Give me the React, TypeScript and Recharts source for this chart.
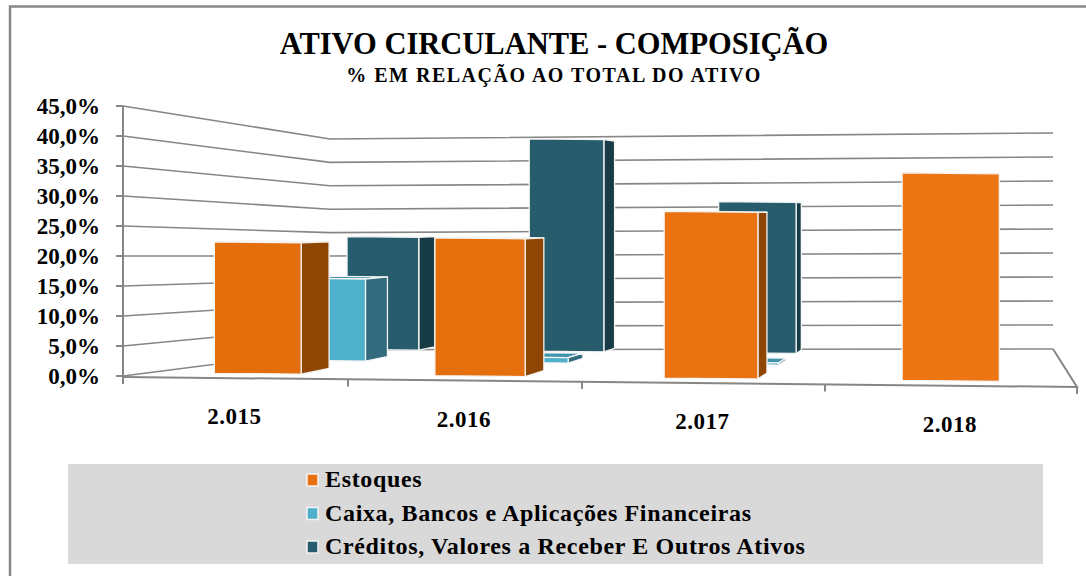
import React from 'react';
import { BarChart, Bar, XAxis, YAxis, CartesianGrid } from 'recharts';

const years = ['2.015', '2.016', '2.017', '2.018'];
const estoques = [22.5, 23.6, 28.55, 35.55];
const caixa = [15.3, 1.0, 0.4, 0];
const creditos = [22.7, 42.7, 30.4, 0];
const yTicks = [0, 5, 10, 15, 20, 25, 30, 35, 40, 45];

const seriesNames = ['Estoques', 'Caixa, Bancos e Aplicações Financeiras', 'Créditos, Valores a Receber E Outros Ativos'];
const seriesColors = ['#e8700f', '#4fb0cb', '#265c6b'];

const data = years.map((year, i) => ({ year, estoques: estoques[i], caixa: caixa[i], creditos: creditos[i] }));

const FONT = '"Liberation Serif", serif';
const GRID = '#868686';
const PLOT_LEFT = 123;
const PLOT_TOP = 106;
const PLOT_WIDTH = 954;
const PLOT_HEIGHT = 270;

// perspective of the 3D box: s = 0 is the front of the floor, s = 1 the back wall
const project = (x: number, s: number) => {
    const t = (x - PLOT_LEFT) / PLOT_WIDTH;
    const g = 0.9245 * t + 0.0755 * t * t;
    const front = PLOT_LEFT + PLOT_WIDTH * g;
    const back = 330 + 723 * g;
    return { x: front + (back - front) * s, y: 377 + 10 * t - (34 + 4 * t) * s };
};
const shrink = (s: number) => 1 - 0.208 * s;
const pts = (list: number[][]) => list.map((p) => p.join(',')).join(' ');

const makeBox = (near: number, far: number, top: string, side: string, fronts: string[]) => (props: any) => {
    const { x, width, height, index } = props;
    if (!height || height <= 0) return null;
    const fl = project(x, near);
    const fr = project(x + width, near);
    const bl = project(x, far);
    const br = project(x + width, far);
    const hn = height * shrink(near);
    const hf = height * shrink(far);
    const edge = { stroke: '#f4f4f4', strokeWidth: 1.3, strokeLinejoin: 'round' as const };
    return (
        <g>
            <polygon points={pts([[fl.x, fl.y - hn], [fr.x, fr.y - hn], [br.x, br.y - hf], [bl.x, bl.y - hf]])} fill={top} {...edge} />
            <polygon points={pts([[fr.x, fr.y], [fr.x, fr.y - hn], [br.x, br.y - hf], [br.x, br.y]])} fill={side} {...edge} />
            <polygon points={pts([[fl.x, fl.y], [fr.x, fr.y], [fr.x, fr.y - hn], [fl.x, fl.y - hn]])} fill={fronts[index % fronts.length]} {...edge} />
        </g>
    );
};

const WallLine = (props: any) => {
    const dy = props.y1 - PLOT_TOP;
    return (
        <polyline
            points={pts([[PLOT_LEFT, props.y1], [330, 139 + dy * 0.78], [1053, 133 + dy * 0.8]])}
            fill="none"
            stroke={GRID}
            strokeWidth={1.6}
        />
    );
};

const YearTick = (props: any) => {
    const { x, payload } = props;
    const p = project(x, 0);
    return (
        <text x={p.x} y={p.y + 46} textAnchor="middle" fontFamily={FONT} fontWeight="bold" fontSize={23} letterSpacing={0.5} fill="#000">
            {payload.value}
        </text>
    );
};

const Floor = () => {
    const floorEnd = project(PLOT_LEFT + PLOT_WIDTH, 0);
    const marks = years.map((_, i) => project(PLOT_LEFT + (PLOT_WIDTH * i) / years.length, 0));
    return (
        <g stroke={GRID} strokeWidth={2} fill="none">
            <polyline points={pts([[1053, 349], [floorEnd.x, floorEnd.y], [project(PLOT_LEFT, 0).x, project(PLOT_LEFT, 0).y]])} />
            {marks.map((m, i) => (
                <line key={i} x1={m.x} y1={m.y} x2={m.x} y2={m.y + 7} />
            ))}
            <line x1={floorEnd.x} y1={floorEnd.y} x2={floorEnd.x} y2={floorEnd.y + 7} />
        </g>
    );
};

export default function App() {
    return (
        <div style={{ position: 'absolute', left: 0, top: 0, width: 1086, height: 576, background: '#fff' }}>
            <BarChart
                width={1086}
                height={576}
                data={data}
                barCategoryGap="30%"
                margin={{ top: PLOT_TOP, right: 1086 - PLOT_LEFT - PLOT_WIDTH, left: 0, bottom: 576 - PLOT_TOP - PLOT_HEIGHT - 30 }}
            >
                <polyline points="10,576 10,6.5 1086,6.5" fill="none" stroke={GRID} strokeWidth={2.5} />
                <text x={554} y={54} textAnchor="middle" fontFamily={FONT} fontWeight="bold" fontSize={30.5} fill="#000">
                    ATIVO CIRCULANTE - COMPOSIÇÃO
                </text>
                <text x={554} y={82} textAnchor="middle" fontFamily={FONT} fontWeight="bold" fontSize={20} letterSpacing={1.5} fill="#000">
                    % EM RELAÇÃO AO TOTAL DO ATIVO
                </text>

                <CartesianGrid xAxisId="front" vertical={false} horizontal={(p: any) => <WallLine key={p.key} {...p} />} />
                <Floor />

                <XAxis xAxisId="front" dataKey="year" height={30} axisLine={false} tickLine={false} interval={0} tick={<YearTick />} />
                <XAxis xAxisId="middle" dataKey="year" hide />
                <XAxis xAxisId="back" dataKey="year" hide />
                <YAxis
                    width={PLOT_LEFT}
                    domain={[0, 45]}
                    ticks={yTicks}
                    interval={0}
                    tickFormatter={(v) => `${v.toFixed(1).replace('.', ',')}%`}
                    tick={{ fill: '#000', fontSize: 23, fontWeight: 'bold', fontFamily: FONT }}
                    tickSize={7}
                    tickMargin={16}
                    axisLine={{ stroke: GRID, strokeWidth: 2 }}
                    tickLine={{ stroke: GRID, strokeWidth: 2 }}
                />

                <Bar xAxisId="back" dataKey="creditos" isAnimationActive={false} shape={makeBox(0.825, 0.92, '#2b6a7c', '#173c46', ['#265c6b'])} />
                <Bar xAxisId="middle" dataKey="caixa" isAnimationActive={false} shape={makeBox(0.51, 0.64, '#3f93ab', '#336b7f', ['#4fb0cb'])} />
                <Bar xAxisId="front" dataKey="estoques" isAnimationActive={false} shape={makeBox(0.13, 0.295, '#e8700f', '#8f4504', ['#e46d0c', '#e56e0d', '#ea7211', '#ee7514'])} />

                <rect x={68} y={464} width={975} height={100} fill="#d9d9d9" />
                {seriesNames.map((name, i) => (
                    <g key={name}>
                        <rect x={307} y={474 + i * 33.5} width={11} height={12} fill={seriesColors[i]} stroke="#f4f4f4" strokeWidth={1.5} />
                        <text x={325} y={487 + i * 33.5} fontFamily={FONT} fontWeight="bold" fontSize={24} letterSpacing={0.65} fill="#000">
                            {name}
                        </text>
                    </g>
                ))}
            </BarChart>
        </div>
    );
}
